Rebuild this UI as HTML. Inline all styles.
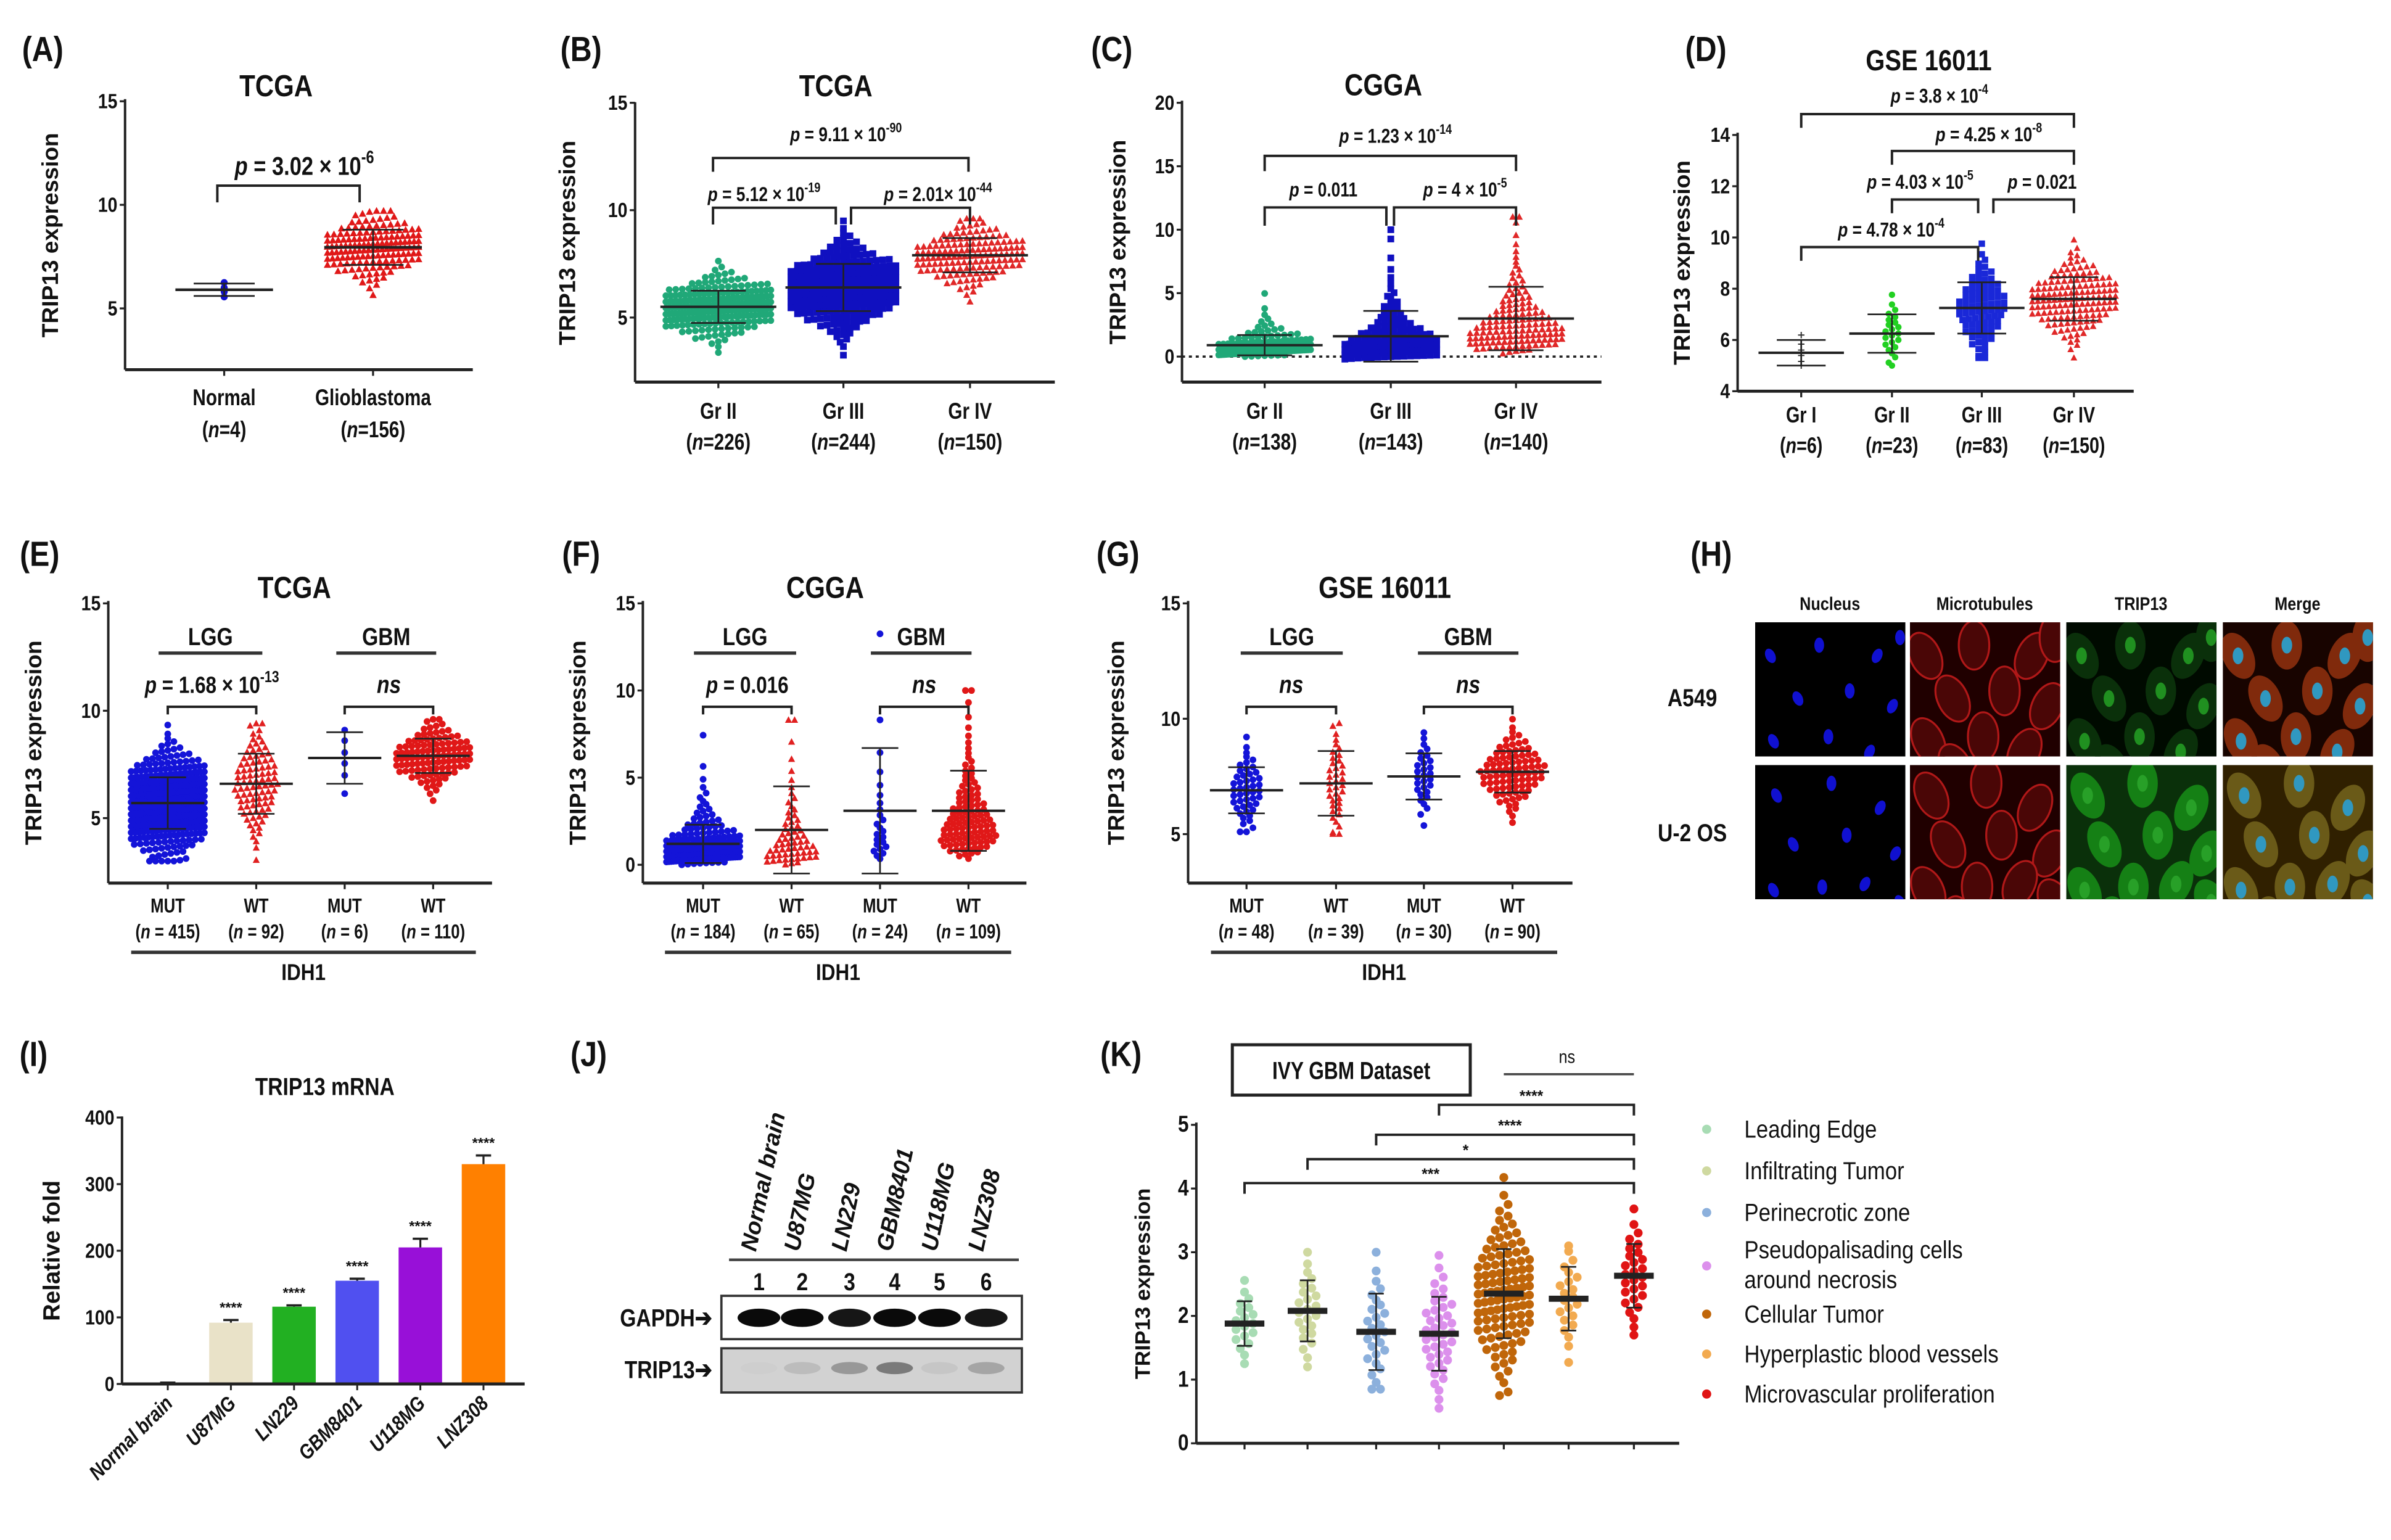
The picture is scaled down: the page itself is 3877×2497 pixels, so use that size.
<!DOCTYPE html>
<html><head><meta charset="utf-8"><title>TRIP13 figure</title>
<style>
html,body{margin:0;padding:0;background:#fff;}
svg{display:block;font-family:"Liberation Sans",Arial,sans-serif;}
</style></head>
<body>
<svg id="fig" xmlns="http://www.w3.org/2000/svg" width="3877" height="2497" viewBox="0 0 1567.7 1009.7" preserveAspectRatio="none">
<rect x="0" y="0" width="1567.7" height="1009.7" fill="#fff"/>
</svg>
<script>
// ---------------- DATA ----------------
// Panel A
const aCats=["Normal","Glioblastoma"]; const aN=["4","156"];
const aMeans=[5.9,7.95]; const aSDs=[0.3,0.85]; const aCounts=[4,156]; const aMins=[5.5,4.9]; const aMaxs=[6.3,9.7];
const aTicks=[5,10,15];
// Panel B
const bCats=["Gr II","Gr III","Gr IV"]; const bN=["226","244","150"];
const bMeans=[5.5,6.4,7.9]; const bSDs=[0.75,1.1,0.8]; const bCounts=[226,244,150]; const bMins=[3.2,3.0,5.5]; const bMaxs=[8.2,9.5,9.6];
const bTicks=[5,10,15];
// Panel C
const cCats=["Gr II","Gr III","Gr IV"]; const cN=["138","143","140"];
const cMeans=[0.9,1.6,3.0]; const cSDs=[0.8,2.0,2.5]; const cCounts=[138,143,140]; const cMins=[0,-0.2,0]; const cMaxs=[8,10,11];
const cTicks=[0,5,10,15,20];
// Panel D
const dCats=["Gr I","Gr II","Gr III","Gr IV"]; const dN=["6","23","83","150"];
const dMeans=[5.5,6.25,7.25,7.6]; const dSDs=[0.5,0.75,1.0,0.85]; const dCounts=[6,23,83,150]; const dMins=[5.0,5.0,5.3,5.3]; const dMaxs=[6.6,8.1,9.9,10.1];
const dTicks=[4,6,8,10,12,14];
// Panel E
const eCats=["MUT","WT","MUT","WT"]; const eN=["415","92","6","110"];
const eMeans=[5.7,6.6,7.8,7.9]; const eSDs=[1.2,1.4,1.2,0.8]; const eCounts=[415,92,6,110]; const eMins=[3,3,5.6,5.5]; const eMaxs=[9.4,9.4,9.1,9.6];
const eTicks=[5,10,15];
// Panel F
const fCats=["MUT","WT","MUT","WT"]; const fN=["184","65","24","109"];
const fMeans=[1.2,2.0,3.1,3.1]; const fSDs=[1.1,2.5,3.6,2.3]; const fCounts=[184,65,24,109]; const fMins=[0,0,0.2,0]; const fMaxs=[9.5,8.3,13.3,10];
const fTicks=[0,5,10,15];
// Panel G
const gCats=["MUT","WT","MUT","WT"]; const gN=["48","39","30","90"];
const gMeans=[6.9,7.2,7.5,7.7]; const gSDs=[1.0,1.4,1.0,0.9]; const gCounts=[48,39,30,90]; const gMins=[5.1,5.0,5.3,5.5]; const gMaxs=[9.9,9.8,9.4,10.2];
const gTicks=[5,10,15];
// Panel I
const iCats=["Normal brain","U87MG","LN229","GBM8401","U118MG","LNZ308"];
const iValues=[1,92,116,155,205,330]; const iErrors=[1,4,2,3,13,13];
const iTicks=[0,100,200,300,400];
// Panel J
const jLanes=["Normal brain","U87MG","LN229","GBM8401","U118MG","LNZ308"];
const jGapdh=[1,1,0.95,1,1,0.95]; const jTrip13=[0.02,0.15,0.4,0.6,0.08,0.3];
// Panel K
const kCats=["Leading Edge","Infiltrating Tumor","Perinecrotic zone","Pseudopalisading cells around necrosis","Cellular Tumor","Hyperplastic blood vessels","Microvascular proliferation"];
const kMeans=[1.88,2.08,1.75,1.72,2.35,2.27,2.63]; const kSDs=[0.35,0.48,0.6,0.58,0.7,0.5,0.5];
const kCounts=[19,24,27,40,110,22,28]; const kMins=[1.25,1.2,0.85,0.55,0.75,1.1,1.7]; const kMaxs=[2.7,3.0,3.0,2.95,4.55,3.1,3.75];
const kTicks=[0,1,2,3,4,5];

// ---------------- HELPERS ----------------
const NS='http://www.w3.org/2000/svg';
const svg=document.getElementById('fig');
function mk(tag,attrs,parent){const e=document.createElementNS(NS,tag);for(const k in attrs)e.setAttribute(k,attrs[k]);(parent||svg).appendChild(e);return e;}
function grp(name){const g=mk('g',{});return g;}
function txt(parent,x,y,s,size,o){o=o||{};
 const t=mk('text',{transform:`translate(${x},${y})${o.rot?` rotate(${o.rot})`:''} scale(${o.sx||0.85},1)`,'font-size':size,'text-anchor':o.anchor||'middle','font-weight':o.w||'bold',fill:o.fill||'#111'},parent);
 if(o.italic)t.setAttribute('font-style','italic');
 
 
 t.textContent=s;return t;}
function ptxt(parent,x,y,main,sup,size){
 const t=mk('text',{transform:`translate(${x},${y}) scale(0.82,1)`,'font-size':size,'text-anchor':'middle','font-weight':'bold',fill:'#111'},parent);
 
 
 const a=mk('tspan',{'font-style':'italic'},t);a.textContent='p';
 const b=mk('tspan',{},t);b.textContent=main;
 if(sup){const c=mk('tspan',{dy:-size*0.45,'font-size':size*0.68},t);c.textContent=sup;}
 return t;}
function ntxt(parent,x,y,n,size,sp){
 const t=mk('text',{transform:`translate(${x},${y}) scale(0.8,1)`,'font-size':size,'text-anchor':'middle','font-weight':'bold',fill:'#111'},parent);
 
 
 const a=mk('tspan',{},t);a.textContent='(';
 const b=mk('tspan',{'font-style':'italic'},t);b.textContent='n';
 const c=mk('tspan',{},t);c.textContent=(sp?' = ':'=')+n+')';return t;}
function line(parent,x1,y1,x2,y2,w,col,name){const l=mk('line',{x1,y1,x2,y2,stroke:col||'#222','stroke-width':w||1.6},parent);
 
 return l;}
function lin(v0,p0,v1,p1){return v=>p0+(v-v0)*(p1-p0)/(v1-v0);}
function probit(p){const a=0.147,x=2*p-1,ln=Math.log(1-x*x),t1=2/(Math.PI*a)+ln/2;
 return Math.SQRT2*Math.sign(x)*Math.sqrt(Math.sqrt(t1*t1-ln/a)-t1);}
function groupValues(n,mean,sd,lo,hi,skew){const v=[];
 for(let i=0;i<n;i++){const z=probit((i+0.5)/n);let x;
  if(skew){const b=lo-0.15,m=mean-b,s2=Math.log(1+(sd/m)*(sd/m));x=b+m*Math.exp(Math.sqrt(s2)*z-s2/2);}
  else x=mean+sd*z;
  v.push(Math.min(hi,Math.max(lo,x)));}
 return v;}
function marker(parent,shape,x,y,r,col){let m;
 if(shape==='circle')m=mk('circle',{cx:x,cy:y,r:r,fill:col},parent);
 else if(shape==='square')m=mk('rect',{x:x-r,y:y-r,width:2*r,height:2*r,fill:col},parent);
 else if(shape==='tri')m=mk('path',{d:`M${x},${y-r*1.15}L${x+r*1.05},${y+r*0.8}L${x-r*1.05},${y+r*0.8}Z`,fill:col},parent);
 else m=mk('path',{d:`M${x-r},${y}H${x+r}M${x},${y-r}V${y+r}`,stroke:col,'stroke-width':0.8},parent);
 
 return m;}
function swarm(parent,vals,yf,cx,binH,sp,maxPer,shape,r,col){
 const bins={};vals.forEach(v=>{const y=yf(v);const k=Math.round(y/binH);(bins[k]=bins[k]||[]).push(y);});
 Object.keys(bins).forEach(k=>{const items=bins[k];const n=items.length;
  const s=n>maxPer?sp*(maxPer-1)/(n-1):sp;
  items.forEach((y,j)=>marker(parent,shape,cx+(j-(n-1)/2)*s,y,r,col));});
}
function axes(g,P){
 line(g,P.x0,P.yTop-1,P.x0,P.yBot,1.6,'#222','y-axis');
 line(g,P.x0,P.yBot,P.x1,P.yBot,2,'#222','x-axis');
 P.ticks.forEach(t=>{const y=P.yf(t);line(g,P.x0-3.5,y,P.x0,y,1.3,'#222','y-tick');
  txt(g,P.x0-5,y+4.6,String(t),P.tickSize||13.5,{anchor:'end',sx:0.85,name:'y-tick-label'});});
 txt(g,P.ytx,(P.yTop+P.yBot)/2,'TRIP13 expression',P.ytSize||15,{rot:-90,sx:1,name:'y-axis-title'});
}
function dotPanel(g,P){
 axes(g,P);
 P.xs.forEach((x,i)=>{line(g,x,P.yBot,x,P.yBot+4,1.3,'#222','x-tick');});
 P.xs.forEach((x,i)=>{
  const gg=grp('dot-group-'+i);g.appendChild(gg);
  const vals=groupValues(P.counts[i],P.means[i],P.sds[i],P.mins[i],P.maxs[i],P.skew);
  swarm(gg,vals,P.yf,x,P.binH,P.sp,P.maxPer,P.shapes[i],P.r,P.colors[i]);
  const ym=P.yf(P.means[i]),ya=P.yf(P.means[i]+P.sds[i]),yb=P.yf(P.means[i]-P.sds[i]);
  line(gg,x-P.mh,ym,x+P.mh,ym,P.mw||1.6,'#222','mean-line');
  line(gg,x,ya,x,yb,1.1,'#222','sd-bar');
  line(gg,x-P.ch,ya,x+P.ch,ya,1.1,'#222','sd-cap');
  line(gg,x-P.ch,yb,x+P.ch,yb,1.1,'#222','sd-cap');
 });
}
function bracket(g,x1,x2,y,leg,name){const p=mk('path',{d:`M${x1},${y+leg}V${y}H${x2}V${y+leg}`,fill:'none',stroke:'#222','stroke-width':1.6},g);
 
 return p;}

// ---------------- PANEL A ----------------
{const g=grp('panel-a');svg.appendChild(g);
 txt(g,28,40,'(A)',23,{name:'panel-label'});
 txt(g,181,63,'TCGA',20,{name:'chart-title'});
 const P={x0:82,x1:310,yTop:66,yBot:242.4,yf:lin(5,202.2,15,66.4),ticks:aTicks,ytx:38,
  xs:[147,244.6],means:aMeans,sds:aSDs,counts:aCounts,mins:aMins,maxs:aMaxs,
  shapes:['circle','tri'],colors:['#1010d0','#e01818'],r:2.3,binH:4,sp:4.6,maxPer:14,mh:32,ch:20,mw:1.8};
 dotPanel(g,P);
 bracket(g,142.5,235.8,121.7,11);
 ptxt(g,199.6,114.7,' = 3.02 × 10','-6',17);
 aCats.forEach((c,i)=>{txt(g,P.xs[i],265.6,c,15,{sx:0.8,name:'x-category-label'});ntxt(g,P.xs[i],286.7,aN[i],15);});
}
// ---------------- PANEL B ----------------
{const g=grp('panel-b');svg.appendChild(g);
 txt(g,381,40,'(B)',23,{name:'panel-label'});
 txt(g,548,63,'TCGA',20,{name:'chart-title'});
 const P={x0:416.4,x1:691.6,yTop:68,yBot:250.5,yf:lin(5,208.2,10,137.8),ticks:bTicks,ytx:377,
  xs:[471,553,636],means:bMeans,sds:bSDs,counts:bCounts,mins:bMins,maxs:bMaxs,
  shapes:['circle','square','tri'],colors:['#20a878','#1010c0','#e02828'],r:2.2,binH:4,sp:4.3,maxPer:17,mh:38,ch:18};
 dotPanel(g,P);
 bracket(g,467.5,635,103.6,9);
 ptxt(g,554.7,92.5,' = 9.11 × 10','-90',13);
 bracket(g,467.5,548,136.2,11);bracket(g,558,636,136.2,11);
 ptxt(g,501,131.8,' = 5.12 × 10','-19',13);ptxt(g,615,131.8,' = 2.01× 10','-44',13);
 bCats.forEach((c,i)=>{txt(g,P.xs[i],274.6,c,15,{sx:0.8,name:'x-category-label'});ntxt(g,P.xs[i],294.8,bN[i],15);});
}
// ---------------- PANEL C ----------------
{const g=grp('panel-c');svg.appendChild(g);
 txt(g,729,40,'(C)',23,{name:'panel-label'});
 txt(g,907,62.4,'CGGA',20,{name:'chart-title'});
 const P={x0:775,x1:1050,yTop:67,yBot:250.5,yf:lin(0,233.8,20,67.4),ticks:cTicks,ytx:738,skew:true,
  xs:[829.2,911.9,994],means:cMeans,sds:cSDs,counts:cCounts,mins:cMins,maxs:cMaxs,
  shapes:['circle','square','tri'],colors:['#20a878','#1010c0','#e02828'],r:2.2,binH:3.5,sp:4.3,maxPer:15,mh:38,ch:18};
 const zl=mk('line',{x1:775,y1:233.8,x2:1050,y2:233.8,stroke:'#222','stroke-width':1.5,'stroke-dasharray':'2,2.5'},g);
 
 
 dotPanel(g,P);
 bracket(g,829.2,994,102.2,10);
 ptxt(g,915,93.6,' = 1.23 × 10','-14',13);
 bracket(g,829.2,909,136,12);bracket(g,914,994,136,12);
 ptxt(g,867.7,128.8,' = 0.011','',13);ptxt(g,960.6,128.8,' = 4 × 10','-5',13);
 cCats.forEach((c,i)=>{txt(g,P.xs[i],274.6,c,15,{sx:0.8,name:'x-category-label'});ntxt(g,P.xs[i],294.8,cN[i],15);});
}
// ---------------- PANEL D ----------------
{const g=grp('panel-d');svg.appendChild(g);
 txt(g,1118.5,40,'(D)',23,{name:'panel-label'});
 txt(g,1264.6,46,'GSE 16011',19,{name:'chart-title'});
 const P={x0:1139.3,x1:1399,yTop:88,yBot:256.5,yf:lin(4,256.5,14,88.5),ticks:dTicks,ytx:1108,
  xs:[1181,1240.5,1299.4,1359.8],means:dMeans,sds:dSDs,counts:dCounts,mins:dMins,maxs:dMaxs,
  shapes:['plus','circle','square','tri'],colors:['#333','#22d022','#1a28d8','#e02828'],r:2.1,binH:4,sp:4.2,maxPer:14,mh:28,ch:16};
 dotPanel(g,P);
 bracket(g,1181,1359.8,74.8,9);ptxt(g,1271.6,67.4,' = 3.8 × 10','-4',13);
 bracket(g,1240.5,1359.8,99,9);ptxt(g,1304,92.5,' = 4.25 × 10','-8',13);
 bracket(g,1240.5,1297,130.8,9);ptxt(g,1259,123.7,' = 4.03 × 10','-5',13);
 bracket(g,1307,1359.8,130.8,9);ptxt(g,1339,123.7,' = 0.021','',13);
 bracket(g,1181,1297,162,9);ptxt(g,1240,155,' = 4.78 × 10','-4',13);
 dCats.forEach((c,i)=>{txt(g,P.xs[i],277,c,14.5,{sx:0.8,name:'x-category-label'});ntxt(g,P.xs[i],297,dN[i],14.5);});
}
// ---------------- PANELS E, F, G ----------------
function idhPanel(name,label,lx,title,tx,P,cats,ns,lgg,gbm,pL,pG,idhX){
 const g=grp(name);svg.appendChild(g);
 txt(g,lx,371,label,23,{name:'panel-label'});
 txt(g,tx,392,title,20,{name:'chart-title'});
 dotPanel(g,P);
 txt(g,(lgg[0]+lgg[1])/2,423,'LGG',16,{name:'group-header'});line(g,lgg[0],428.2,lgg[1],428.2,2.2,'#333','group-underline');
 txt(g,(gbm[0]+gbm[1])/2,423,'GBM',16,{name:'group-header'});line(g,gbm[0],428.2,gbm[1],428.2,2.2,'#333','group-underline');
 bracket(g,P.xs[0],P.xs[1],463.4,5);bracket(g,P.xs[2],P.xs[3],463.4,5);
 [pL,pG].forEach((p,k)=>{const cx=(P.xs[2*k]+P.xs[2*k+1])/2;
  if(p[0]==='ns')txt(g,cx,454.3,'ns',16,{italic:true,name:'ns-label'});else ptxt(g,cx,454.3,p[0],p[1],15.5);});
 cats.forEach((c,i)=>{txt(g,P.xs[i],598.2,c,13,{sx:0.8,name:'x-category-label'});ntxt(g,P.xs[i],615.3,ns[i],13,true);});
 line(g,idhX[0],624.4,idhX[1],624.4,2.2,'#333','idh1-underline');
 txt(g,(idhX[0]+idhX[1])/2,642.5,'IDH1',15,{name:'idh1-label'});
}
idhPanel('panel-e','(E)',26,'TCGA',193,
 {x0:71,x1:322.6,yTop:395,yBot:579,yf:lin(5,536.4,15,395.6),ticks:eTicks,ytx:27,
  xs:[110,168,226,284],means:eMeans,sds:eSDs,counts:eCounts,mins:eMins,maxs:eMaxs,
  shapes:['circle','tri','circle','circle'],colors:['#1414d8','#e02020','#1414d8','#e01818'],r:2.2,binH:4,sp:4.0,maxPer:13,mh:24,ch:12},
 eCats,eN,[104,172],[220.5,286],[' = 1.68 × 10','-13'],['ns'],[86,312]);
idhPanel('panel-f','(F)',381,'CGGA',541,
 {x0:421.5,x1:673,yTop:395,yBot:579,yf:lin(0,567,15,395.6),ticks:fTicks,ytx:384,skew:true,
  xs:[461,519,577,635],means:fMeans,sds:fSDs,counts:fCounts,mins:fMins,maxs:fMaxs,
  shapes:['circle','tri','circle','circle'],colors:['#1414d8','#e02020','#1414d8','#e01818'],r:2.2,binH:3.5,sp:4.0,maxPer:13,mh:24,ch:12},
 fCats,fN,[455,522],[571,637],[' = 0.016',''],['ns'],[436,663]);
idhPanel('panel-g','(G)',733,'GSE 16011',908,
 {x0:779,x1:1031,yTop:395,yBot:579,yf:lin(5,546.9,15,395.6),ticks:gTicks,ytx:737,
  xs:[817.3,876,933.6,991.7],means:gMeans,sds:gSDs,counts:gCounts,mins:gMins,maxs:gMaxs,
  shapes:['circle','tri','circle','circle'],colors:['#1414d8','#e02020','#1414d8','#e01818'],r:2.2,binH:4,sp:4.2,maxPer:12,mh:24,ch:12},
 gCats,gN,[813.5,880.4],[929.7,995.6],['ns'],['ns'],[794,1021]);

// ---------------- PANEL H (microscopy) ----------------
{const g=grp('panel-h');svg.appendChild(g);
 txt(g,1122,371,'(H)',23,{name:'panel-label'});
 const cols=[[1150.8,'Nucleus'],[1252.3,'Microtubules'],[1354.8,'TRIP13'],[1457.4,'Merge']];
 const rows=[[408,'A549'],[501.6,'U-2 OS']];
 const cellsA=[[10,22],[42,15],[80,22],[28,50],[62,45],[90,55],[12,78],[48,75],[75,85],[30,95],[95,10]];
 const cellsB=[[14,20],[50,12],[82,28],[25,52],[60,46],[92,58],[12,82],[44,80],[72,78],[95,90],[30,102]];
 cols.forEach(c=>txt(g,c[0]+49,400,c[1],12,{sx:0.85,name:'channel-header'}));
 rows.forEach((r,ri)=>{
  txt(g,1109.6,r[0]+50+(ri?0:5),r[1],16,{sx:0.85,name:'cell-line-label'});
  cols.forEach((c,ci)=>{
   const w=98.5,h=88;
   const cp=mk('clipPath',{id:`cp${ri}${ci}`},g);mk('rect',{x:c[0],y:r[0],width:w,height:h},cp);
   const im=mk('g',{'clip-path':`url(#cp${ri}${ci})`},g);
   
   
   const bg=['#000','#200000',ri?'#0a300a':'#000a00',ri?'#302000':'#180400'][ci];
   mk('rect',{x:c[0],y:r[0],width:w,height:h,fill:bg},im);
   const cells=ri?cellsB:cellsA;
   cells.forEach((p,k)=>{const x=c[0]+p[0],y=r[0]+p[1];const rot=(k%3-1)*25;
    if(ci===0)mk('ellipse',{cx:x,cy:y,rx:3.2,ry:5,fill:'#1010d0',transform:`rotate(${rot},${x},${y})`},im);
    else if(ci===1)mk('ellipse',{cx:x,cy:y,rx:10,ry:16,fill:'#4a0606',stroke:'#b01818','stroke-width':1.3,transform:`rotate(${rot},${x},${y})`},im);
    else if(ci===2){mk('ellipse',{cx:x,cy:y,rx:10,ry:16,fill:ri?'#158015':'#0a300a',transform:`rotate(${rot},${x},${y})`},im);mk('ellipse',{cx:x,cy:y,rx:3.5,ry:5.5,fill:ri?'#28a028':'#209020'},im);}
    else{mk('ellipse',{cx:x,cy:y,rx:10,ry:16,fill:ri?'#6a5a18':'#802a0c',transform:`rotate(${rot},${x},${y})`},im);mk('ellipse',{cx:x,cy:y,rx:3.5,ry:5.5,fill:'#3098c0'},im);}
   });
  });
 });
}
// ---------------- PANEL I (bar chart) ----------------
{const g=grp('panel-i');svg.appendChild(g);
 txt(g,22,699,'(I)',23,{name:'panel-label'});
 txt(g,213,718,'TRIP13 mRNA',16,{name:'chart-title'});
 const yf=lin(0,907.4,400,732.7),x0=80,x1=344,step=41.4,bw=28.5,xc=i=>110+i*step;
 const colors=['#555','#e9e2c8','#22b022','#5050f0','#9810d8','#ff8000'];
 iCats.forEach((c,i)=>{const x=xc(i),y=yf(iValues[i]);
  const b=mk('rect',{x:x-bw/2,y:y,width:bw,height:yf(0)-y,fill:colors[i]},g);
  
  
  const ye=yf(iValues[i]+iErrors[i]);
  line(g,x,y,x,ye,1.3,'#222','error-bar');line(g,x-5,ye,x+5,ye,1.5,'#222','error-cap');
  if(i>0)txt(g,x,ye-5,'****',9.5,{sx:1,name:'significance-stars'});
  line(g,x,907.4,x,911.5,1.2,'#222','x-tick');
  txt(g,x+4,921,c,13.5,{rot:-45,anchor:'end',italic:true,sx:0.85,name:'x-category-label'});
 });
 line(g,x0,732,x0,907.4,1.6,'#222','y-axis');line(g,x0,907.4,x1,907.4,2,'#222','x-axis');
 iTicks.forEach(t=>{line(g,x0-3.5,yf(t),x0,yf(t),1.3,'#222','y-tick');txt(g,x0-5,yf(t)+4.6,String(t),13.5,{anchor:'end',name:'y-tick-label'});});
 txt(g,39,820,'Relative fold',15.5,{rot:-90,sx:1,name:'y-axis-title'});
}
// ---------------- PANEL J (western blot) ----------------
{const g=grp('panel-j');svg.appendChild(g);
 txt(g,386,699,'(J)',23,{name:'panel-label'});
 const lx=[497.6,526,557,586.6,616,646.6];
 jLanes.forEach((l,i)=>{txt(g,lx[i]-2,821,l,15,{rot:-78,anchor:'start',italic:true,sx:1,name:'lane-label'});
  txt(g,lx[i],846,String(i+1),16,{sx:0.85,name:'lane-number'});});
 line(g,478,826,668,826,1.8,'#444','lane-underline');
 const b1=mk('rect',{x:473,y:849.6,width:197,height:28.4,fill:'#fff',stroke:'#333','stroke-width':1.5},g);
 
 
 const b2=mk('rect',{x:473,y:884,width:197,height:29,fill:'#d2d2d2',stroke:'#333','stroke-width':1.5},g);
 
 
 lx.forEach((x,i)=>{
  const e1=mk('ellipse',{cx:x,cy:864,rx:14,ry:6,fill:'#0a0a0a','fill-opacity':jGapdh[i]},g);
  
  
  const e2=mk('ellipse',{cx:x,cy:897,rx:12,ry:4,fill:'#404040','fill-opacity':jTrip13[i]},g);
  
  
 });
 txt(g,467,869.5,'GAPDH➔',16,{anchor:'end',name:'gapdh-label'});
 txt(g,467,903.5,'TRIP13➔',16,{anchor:'end',name:'trip13-label'});
}
// ---------------- PANEL K ----------------
{const g=grp('panel-k');svg.appendChild(g);
 txt(g,735,699,'(K)',23,{name:'panel-label'});
 const bx=mk('rect',{x:808,y:685,width:156,height:33,fill:'#fff',stroke:'#222','stroke-width':2},g);
 
 
 txt(g,886,707.5,'IVY GBM Dataset',16,{sx:0.8,name:'chart-title'});
 const colors=['#a8dcb4','#cfd9a0','#8cb0dc','#dc90ec','#c0660a','#f2aa50','#e01414'];
 const P={x0:784.4,x1:1101,yTop:737,yBot:946.3,yf:lin(0,946.3,5,737.5),ticks:kTicks,ytx:754,ytSize:14,tickSize:15,
  xs:[816,857.3,902.3,943.5,986,1028.5,1071.3],means:kMeans,sds:kSDs,counts:kCounts,mins:kMins,maxs:kMaxs,
  shapes:['circle','circle','circle','circle','circle','circle','circle'],colors:colors,r:2.9,binH:6,sp:5.6,maxPer:7,mh:13,ch:5,mw:4};
 dotPanel(g,P);
 const bs=[[0,775.7,'***',938],[1,760,'*',961],[2,744,'****',990],[3,724.4,'****',1004]];
 bs.forEach(b=>{bracket(g,P.xs[b[0]],P.xs[6],b[1],7);txt(g,b[3],b[1]-2.5,b[2],10,{sx:1,name:'significance-stars'});});
 line(g,986,704.3,1071.3,704.3,1.4,'#444','ns-line');
 txt(g,1027.4,697,'ns',12,{w:'normal',name:'ns-label'});
 const ly=[740.4,767.7,795,830,861.6,887.8,914];
 kCats.forEach((c,i)=>{const d=mk('circle',{cx:1119,cy:ly[i],r:3,fill:colors[i]},g);
  
  
  if(i===3){txt(g,1143.7,825,'Pseudopalisading cells',16,{anchor:'start',w:'normal',sx:0.88,name:'legend-entry'});
   txt(g,1143.7,844.5,'around necrosis',16,{anchor:'start',w:'normal',sx:0.88,name:'legend-entry'});}
  else txt(g,1143.7,ly[i]+5.5,c,16,{anchor:'start',w:'normal',sx:0.88,name:'legend-entry'});
 });
}
</script>
</body></html>
